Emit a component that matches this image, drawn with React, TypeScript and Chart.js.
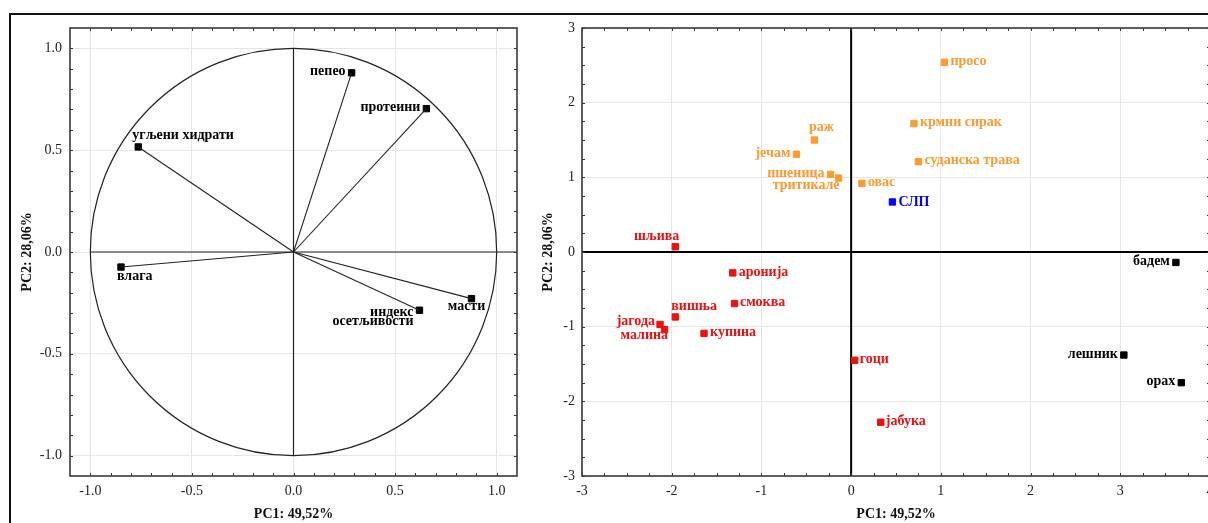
import React, { useEffect, useRef } from 'react';
import { Chart, registerables } from 'chart.js';

Chart.register(...registerables);

const FONT = "'Liberation Serif', 'Times New Roman', serif";

// ---- Loadings of the measured variables (left panel) ----
const variableNames = ['пепео', 'протеини', 'угљени хидрати', 'влага', 'масти', 'индекс\nосетљивости'];
const loadingPC1 = [0.286, 0.654, -0.764, -0.849, 0.876, 0.62];
const loadingPC2 = [0.88, 0.704, 0.516, -0.074, -0.229, -0.286];

// ---- Scores of the samples (right panel) ----
const cerealNames = ['просо', 'крмни сирак', 'суданска трава', 'раж', 'јечам', 'пшеница', 'тритикале', 'овас'];
const cerealPC1 = [1.04, 0.7, 0.75, -0.41, -0.61, -0.23, -0.14, 0.12];
const cerealPC2 = [2.54, 1.72, 1.21, 1.5, 1.31, 1.04, 0.99, 0.92];

const fruitNames = ['шљива', 'аронија', 'смоква', 'вишња', 'јагода', 'малина', 'купина', 'гоци', 'јабука'];
const fruitPC1 = [-1.96, -1.32, -1.3, -1.96, -2.13, -2.08, -1.64, 0.04, 0.33];
const fruitPC2 = [0.07, -0.28, -0.69, -0.87, -0.97, -1.04, -1.09, -1.45, -2.28];

const nutNames = ['бадем', 'лешник', 'орах'];
const nutPC1 = [3.62, 3.04, 3.68];
const nutPC2 = [-0.14, -1.38, -1.75];

const referenceNames = ['СЛП'];
const referencePC1 = [0.46];
const referencePC2 = [0.67];

// ---- Axis ticks ----
const loadingTicks = [-1, -0.5, 0, 0.5, 1];
const loadingTickLabels = ['-1.0', '-0.5', '0.0', '0.5', '1.0'];
const scoreXTicks = [-3, -2, -1, 0, 1, 2, 3, 4];
const scoreYTicks = [-3, -2, -1, 0, 1, 2, 3];
const scoreTickLabels = (v: number) => String(v);

const xTitle = 'PC1: 49,52%';
const yTitle = 'PC2: 28,06%';

// ---- Label placement around each marker ----
type Place = { align: CanvasTextAlign; dx: number; dy: number; gap?: number };
const leftPlacement: Record<string, Place> = {
  'пепео': { align: 'right', dx: -6, dy: -1 },
  'протеини': { align: 'right', dx: -6, dy: -1 },
  'угљени хидрати': { align: 'left', dx: -6, dy: -12 },
  'влага': { align: 'left', dx: -4, dy: 9 },
  'масти': { align: 'center', dx: -5, dy: 7.5 },
  'индекс\nосетљивости': { align: 'right', dx: -6, dy: 2, gap: 9.5 },
};
const rightPlacement: Record<string, Place> = {
  'просо': { align: 'left', dx: 6, dy: -1 },
  'крмни сирак': { align: 'left', dx: 6, dy: -1 },
  'суданска трава': { align: 'left', dx: 6, dy: -1 },
  'раж': { align: 'center', dx: 7, dy: -13 },
  'јечам': { align: 'right', dx: -6, dy: -1 },
  'пшеница': { align: 'right', dx: -6, dy: -1 },
  'тритикале': { align: 'right', dx: 1, dy: 7 },
  'овас': { align: 'left', dx: 6, dy: -1 },
  'СЛП': { align: 'left', dx: 6, dy: 0 },
  'шљива': { align: 'right', dx: 4, dy: -10 },
  'аронија': { align: 'left', dx: 6, dy: -1 },
  'смоква': { align: 'left', dx: 5.5, dy: -1 },
  'вишња': { align: 'left', dx: -4, dy: -10.5 },
  'јагода': { align: 'right', dx: -5, dy: -3 },
  'малина': { align: 'right', dx: 3.5, dy: 6 },
  'купина': { align: 'left', dx: 6, dy: -1 },
  'гоци': { align: 'left', dx: 5, dy: -1 },
  'јабука': { align: 'left', dx: 5, dy: -1 },
  'бадем': { align: 'right', dx: -6, dy: -1 },
  'лешник': { align: 'right', dx: -6, dy: -1 },
  'орах': { align: 'right', dx: -6, dy: -1 },
};

const COLORS = {
  cereal: '#ff9a2e',
  fruit: '#f01010',
  nut: '#000000',
  reference: '#0000ff',
  loading: '#000000',
};

const toPoints = (xs: number[], ys: number[]) => xs.map((x, i) => ({ x, y: ys[i] }));
const along = (from: number, to: number, step: number) =>
  Array.from({ length: Math.round((to - from) / step) + 1 }, (_, i) => +(from + i * step).toFixed(4));

// Draws text labels next to markers of datasets carrying point names
const labelPlugin = (placement: Record<string, Place>) => ({
  id: 'pointNames',
  afterDatasetsDraw(chart: any) {
    const ctx = chart.ctx;
    ctx.save();
    ctx.font = `bold 14px ${FONT}`;
    ctx.textBaseline = 'middle';
    chart.data.datasets.forEach((ds: any, di: number) => {
      if (!ds.pointNames) return;
      const meta = chart.getDatasetMeta(di);
      ctx.fillStyle = ds.labelColor;
      meta.data.forEach((pt: any, i: number) => {
        const name: string = ds.pointNames[i];
        const p = placement[name] || { align: 'left', dx: 6, dy: 0 };
        ctx.textAlign = p.align;
        name.split('\n').forEach((line, k) => {
          ctx.fillText(line, pt.x + p.dx, pt.y + p.dy + k * (p.gap || 14));
        });
      });
    });
    ctx.restore();
  },
});

// Plot box with small inward tick marks on all four sides
const framePlugin = (xMinor: number[], yMinor: number[]) => ({
  id: 'plotFrame',
  afterDraw(chart: any) {
    const { ctx, chartArea: a } = chart;
    const { x, y } = chart.scales;
    ctx.save();
    ctx.strokeStyle = '#333';
    ctx.lineWidth = 1;
    ctx.beginPath();
    xMinor.forEach((v) => {
      const px = Math.round(x.getPixelForValue(v)) + 0.5;
      ctx.moveTo(px, a.bottom);
      ctx.lineTo(px, a.bottom - 3);
      ctx.moveTo(px, a.top);
      ctx.lineTo(px, a.top + 3);
    });
    yMinor.forEach((v) => {
      const py = Math.round(y.getPixelForValue(v)) + 0.5;
      ctx.moveTo(a.left, py);
      ctx.lineTo(a.left + 3, py);
      ctx.moveTo(a.right, py);
      ctx.lineTo(a.right - 3, py);
    });
    ctx.stroke();
    ctx.lineWidth = 1.6;
    ctx.strokeStyle = '#3a3a3a';
    ctx.strokeRect(a.left, a.top, a.right - a.left, a.bottom - a.top);
    ctx.restore();
  },
});

// Unit circle and axes through the origin for the loading plot
const circlePlugin = {
  id: 'unitCircle',
  beforeDatasetsDraw(chart: any) {
    const { ctx, chartArea: a } = chart;
    const { x, y } = chart.scales;
    const cx = x.getPixelForValue(0);
    const cy = y.getPixelForValue(0);
    const rx = x.getPixelForValue(1) - cx;
    const ry = cy - y.getPixelForValue(1);
    ctx.save();
    ctx.strokeStyle = '#222';
    ctx.lineWidth = 1.2;
    ctx.beginPath();
    ctx.ellipse(cx, cy, rx, ry, 0, 0, Math.PI * 2);
    ctx.stroke();
    ctx.beginPath();
    ctx.moveTo(x.getPixelForValue(-1), cy);
    ctx.lineTo(a.right, cy);
    ctx.moveTo(cx, y.getPixelForValue(1));
    ctx.lineTo(cx, y.getPixelForValue(-1));
    ctx.stroke();
    ctx.restore();
  },
};

// Bold axes through the origin for the score plot
const originPlugin = {
  id: 'originAxes',
  beforeDatasetsDraw(chart: any) {
    const { ctx, chartArea: a } = chart;
    const { x, y } = chart.scales;
    const cx = x.getPixelForValue(0);
    const cy = y.getPixelForValue(0);
    ctx.save();
    ctx.strokeStyle = '#000';
    ctx.lineWidth = 2;
    ctx.beginPath();
    ctx.moveTo(a.left, cy);
    ctx.lineTo(a.right, cy);
    ctx.moveTo(cx, a.top);
    ctx.lineTo(cx, a.bottom);
    ctx.stroke();
    ctx.restore();
  },
};

const tickFont = { family: FONT, size: 14 };
const titleFont = { family: FONT, size: 14, weight: 'bold' as const };

function axis(
  min: number,
  max: number,
  values: number[],
  label: (v: number, i: number) => string,
  title: string,
  titlePadding: any,
  size: number,
  horizontal: boolean,
  pad: number
) {
  return {
    type: 'linear' as const,
    min,
    max,
    afterBuildTicks: (s: any) => {
      s.ticks = values.map((v) => ({ value: v }));
    },
    afterFit: (s: any) => {
      if (horizontal) s.height = size;
      else s.width = size;
    },
    ticks: {
      autoSkip: false,
      maxRotation: 0,
      padding: pad,
      color: '#222',
      font: tickFont,
      callback: (v: any, i: number) => label(v, i),
    },
    grid: { color: '#e6e6e6', lineWidth: 1, drawTicks: false },
    border: { display: false },
    title: { display: true, text: title, color: '#111', font: titleFont, padding: titlePadding },
  };
}

const pointStyle = (color: string) => ({
  pointStyle: 'rect' as const,
  pointRadius: 4.5,
  pointBorderWidth: 1,
  pointBackgroundColor: color,
  pointBorderColor: color,
  showLine: false,
});

export default function App() {
  const leftRef = useRef<HTMLCanvasElement>(null);
  const rightRef = useRef<HTMLCanvasElement>(null);

  useEffect(() => {
    const vectorSets = loadingPC1.map((x, i) => ({
      data: [
        { x: 0, y: 0 },
        { x, y: loadingPC2[i] },
      ],
      showLine: true,
      borderColor: '#222',
      borderWidth: 1.1,
      pointRadius: 0,
    }));

    const left = new Chart(leftRef.current!, {
      type: 'scatter',
      data: {
        datasets: [
          ...vectorSets,
          {
            data: toPoints(loadingPC1, loadingPC2),
            ...pointStyle(COLORS.loading),
            pointNames: variableNames,
            labelColor: '#000',
          } as any,
        ],
      },
      options: {
        animation: false,
        responsive: false,
        maintainAspectRatio: false,
        events: [],
        layout: { padding: { left: 0, top: 28, right: 23, bottom: 0 } },
        plugins: { legend: { display: false }, tooltip: { enabled: false } },
        scales: {
          x: axis(-1.1, 1.1, loadingTicks, (_v, i) => loadingTickLabels[i], xTitle, { top: 0, bottom: 0 }, 47, true, 7),
          y: axis(-1.1, 1.1, loadingTicks, (_v, i) => loadingTickLabels[i], yTitle, { top: 18.6, bottom: 0 }, 70, false, 8),
        },
      },
      plugins: [circlePlugin, labelPlugin(leftPlacement), framePlugin(along(-1, 1, 0.1), along(-1, 1, 0.1))],
    });

    const right = new Chart(rightRef.current!, {
      type: 'scatter',
      data: {
        datasets: [
          { data: toPoints(cerealPC1, cerealPC2), ...pointStyle(COLORS.cereal), pointNames: cerealNames, labelColor: COLORS.cereal } as any,
          { data: toPoints(fruitPC1, fruitPC2), ...pointStyle(COLORS.fruit), pointNames: fruitNames, labelColor: COLORS.fruit } as any,
          { data: toPoints(nutPC1, nutPC2), ...pointStyle(COLORS.nut), pointNames: nutNames, labelColor: COLORS.nut } as any,
          { data: toPoints(referencePC1, referencePC2), ...pointStyle(COLORS.reference), pointNames: referenceNames, labelColor: COLORS.reference } as any,
        ],
      },
      options: {
        animation: false,
        responsive: false,
        maintainAspectRatio: false,
        events: [],
        layout: { padding: { left: 0, top: 28, right: 30, bottom: 0 } },
        plugins: { legend: { display: false }, tooltip: { enabled: false } },
        scales: {
          x: axis(-3, 4, scoreXTicks, (v) => scoreTickLabels(v), xTitle, { top: 0, bottom: 0 }, 47, true, 7),
          y: axis(-3, 3, scoreYTicks, (v) => scoreTickLabels(v), yTitle, { top: 0, bottom: 0 }, 42, false, 7),
        },
      },
      plugins: [originPlugin, labelPlugin(rightPlacement), framePlugin(along(-3, 4, 0.25), along(-3, 3, 0.25))],
    });

    return () => {
      left.destroy();
      right.destroy();
    };
  }, []);

  return (
    <div style={{ position: 'fixed', left: 0, top: 0, width: 1208, height: 523, overflow: 'hidden', background: '#fff' }}>
      <div
        style={{
          position: 'absolute',
          left: 9,
          top: 13,
          width: 1300,
          height: 600,
          borderTop: '2px solid #111',
          borderLeft: '2px solid #111',
        }}
      />
      <canvas ref={leftRef} width={540} height={523} style={{ position: 'absolute', left: 0, top: 0, width: 540, height: 523 }} />
      <canvas ref={rightRef} width={700} height={523} style={{ position: 'absolute', left: 540, top: 0, width: 700, height: 523 }} />
    </div>
  );
}
